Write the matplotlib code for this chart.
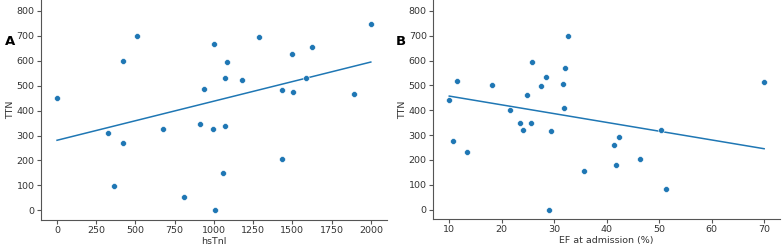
import numpy as np
import matplotlib.pyplot as plt

# Panel A: hsTnI vs TTN
hstni = [0, 325, 365, 420, 420, 512, 675, 807, 913, 938, 996, 1002, 1008,
         1059, 1070, 1072, 1085, 1178, 1289, 1431, 1431, 1499, 1507, 1590,
         1624, 1896, 2002]
ttn_a = [450, 309, 99, 272, 601, 701, 328, 54, 345, 486, 328, 666, 0,
         151, 338, 530, 597, 523, 696, 483, 206, 626, 476, 531,
         654, 466, 749]
# trend line as drawn in the figure (endpoints)
fit_a_x = [0, 2000]
fit_a_y = [281, 595]

# Panel B: EF at admission vs TTN
ef = [10.0, 10.8, 11.5, 13.4, 18.1, 21.5, 23.4, 24.0, 24.9, 25.6, 25.8,
      27.5, 28.5, 29.1, 29.4, 31.7, 31.8, 32.1, 32.7, 35.7, 41.4, 41.8,
      42.3, 46.4, 50.3, 51.3, 69.9]
ttn_b = [440, 278, 518, 231, 500, 399, 348, 321, 460, 348, 593,
         496, 532, 0, 316, 507, 411, 570, 701, 155, 258, 181,
         292, 202, 320, 84, 514]
fit_b_x = [10, 70]
fit_b_y = [457, 245]

blue = '#1f77b4'
plt.rcParams['font.family'] = 'DejaVu Sans'
plt.rcParams['font.size'] = 6.8

fig = plt.figure(figsize=(7.83, 2.52), dpi=100)
ax1 = fig.add_axes([0.052, 0.127, 0.442, 0.873])
ax2 = fig.add_axes([0.553, 0.13, 0.443, 0.87])


def panel(ax, x, y, fx, fy, xlabel, letter, lx):
    ax.scatter(x, y, s=18, color=blue, edgecolor='white', linewidth=0.4, zorder=3)
    ax.plot(fx, fy, color=blue, lw=1.1)
    ax.set_xlabel(xlabel, color='#333333', labelpad=1)
    ax.set_ylabel('TTN', color='#333333', labelpad=1)
    ax.set_yticks(range(0, 801, 100))
    ax.set_ylim(-39, 844)
    for s in ['top', 'right']:
        ax.spines[s].set_visible(False)
    for s in ['left', 'bottom']:
        ax.spines[s].set_color('#555555')
    ax.tick_params(colors='#555555', labelcolor='#333333', length=3, pad=1.5)
    ax.text(lx, 0.81, letter, transform=ax.transAxes,
            fontsize=9.5, fontweight='bold', ha='left', va='center')


panel(ax1, hstni, ttn_a, fit_a_x, fit_a_y, 'hsTnI', 'A', -0.103)
ax1.set_xticks(range(0, 2001, 250))
ax1.set_xlim(-104, 2102)

panel(ax2, ef, ttn_b, fit_b_x, fit_b_y, 'EF at admission (%)', 'B', -0.107)
ax2.set_xticks(range(10, 71, 10))
ax2.set_xlim(6.9, 73)

fig.savefig('out.png', dpi=100)
